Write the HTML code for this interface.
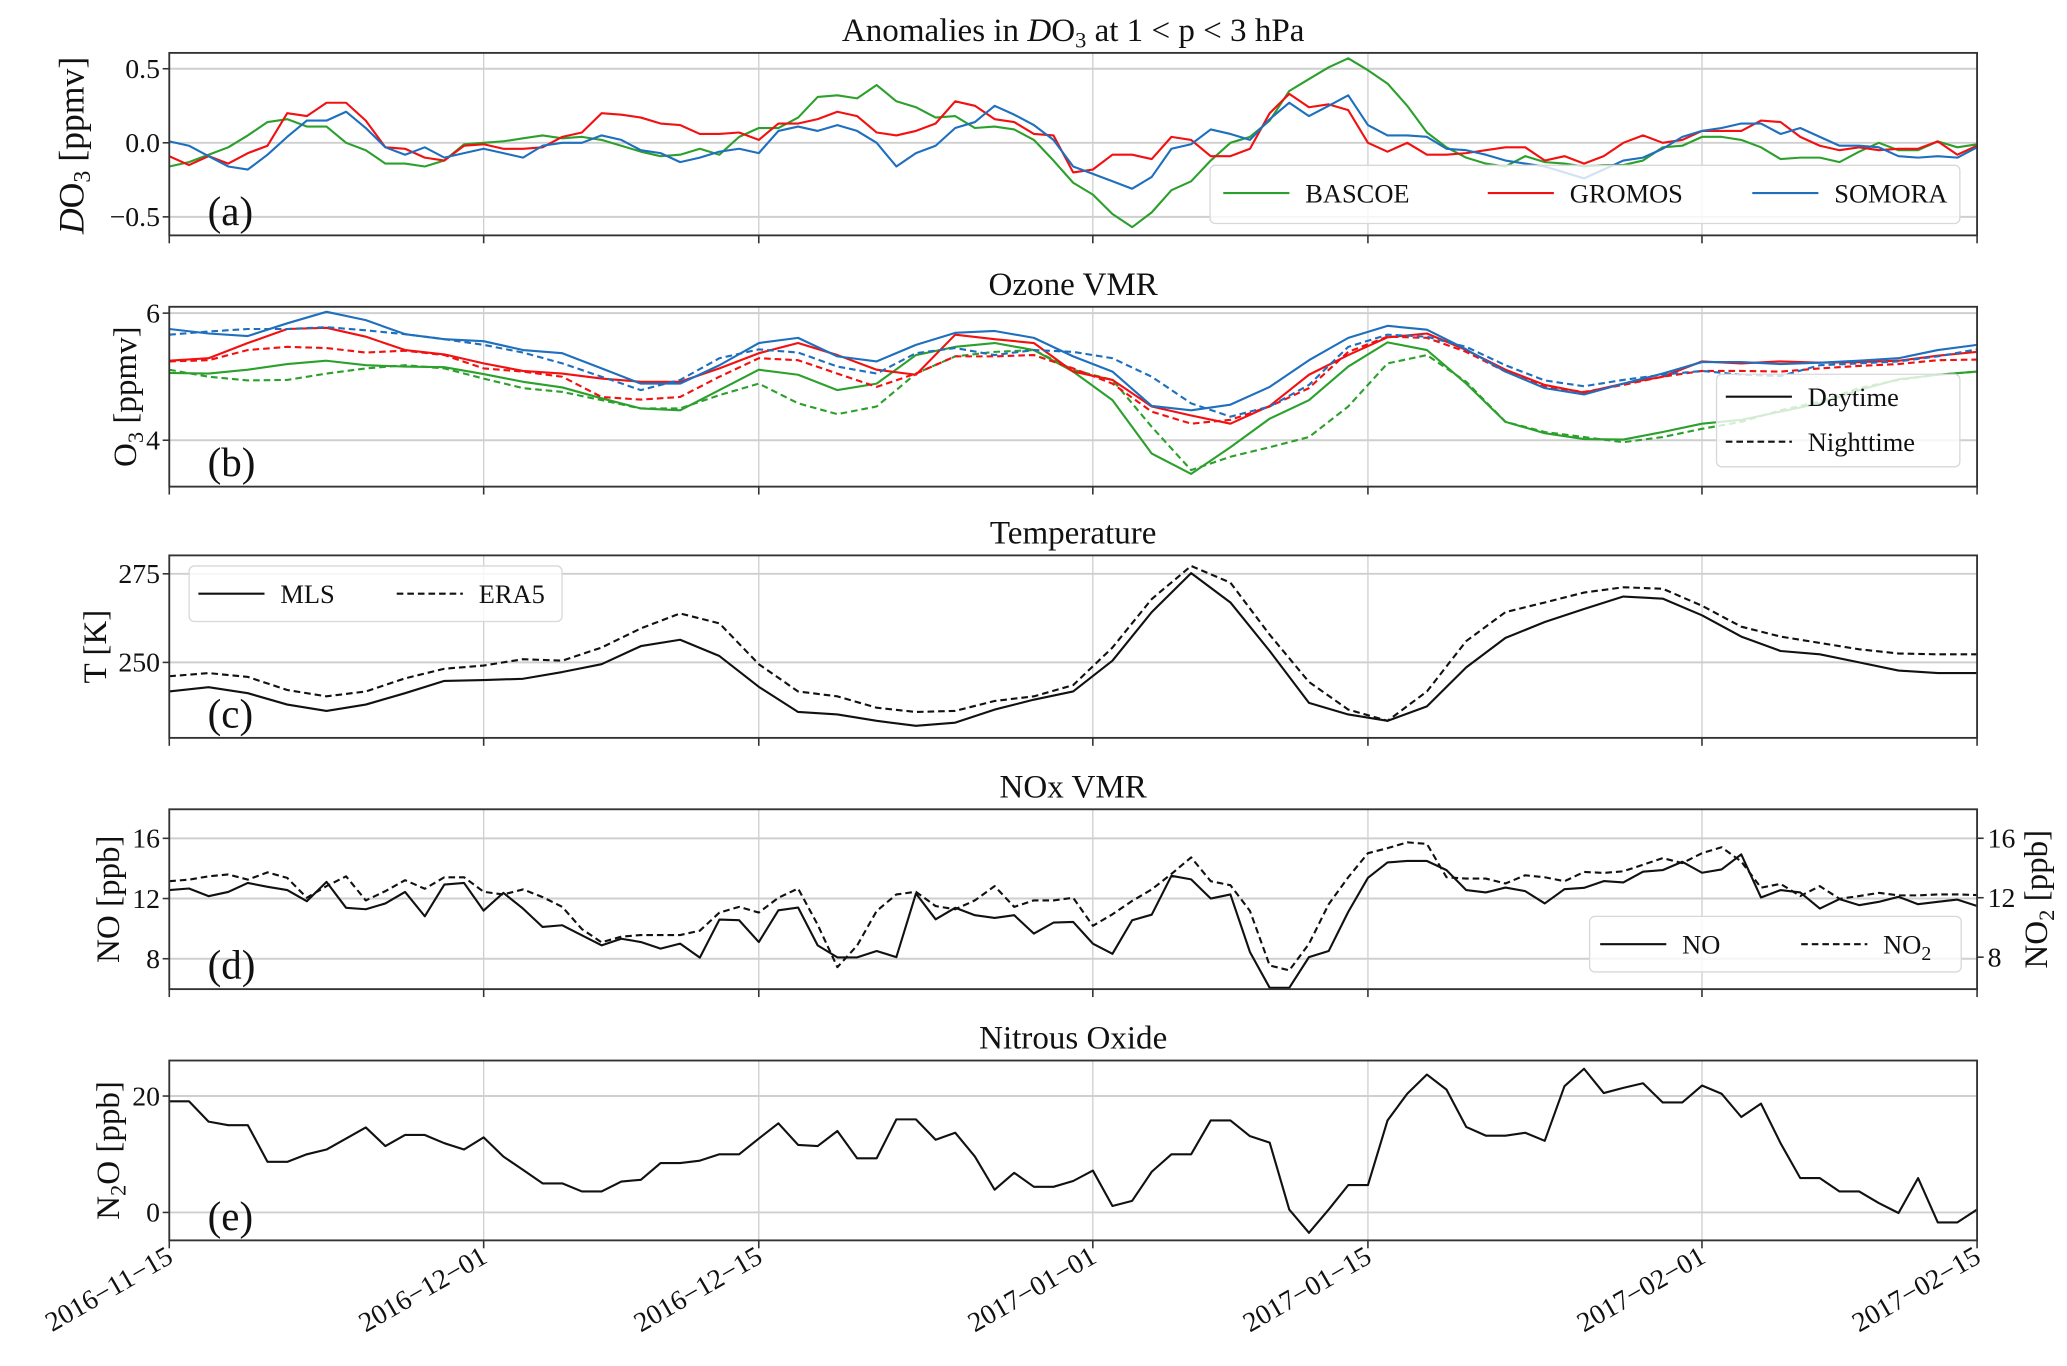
<!DOCTYPE html>
<html><head><meta charset="utf-8"><style>
html,body{margin:0;padding:0;background:#fff;}
svg{display:block;}
text{font-family:"Liberation Serif","DejaVu Serif",serif;fill:#111;}
</style></head><body>
<svg id="chart" width="2067" height="1366" viewBox="0 0 1563 1033" preserveAspectRatio="none" xmlns="http://www.w3.org/2000/svg"></svg>
<script>
// ---------- data ----------
const dateTicks = [0,16,30,47,61,78,92];
const dateLabels = ["2016\u221211\u221215","2016\u221212\u221201","2016\u221212\u221215","2017\u221201\u221201","2017\u221201\u221215","2017\u221202\u221201","2017\u221202\u221215"];

const aBascoe = [-0.16,-0.13,-0.08,-0.03,0.05,0.14,0.16,0.11,0.11,0.0,-0.05,-0.14,-0.14,-0.16,-0.12,-0.01,0.0,0.01,0.03,0.05,0.03,0.04,0.02,-0.02,-0.06,-0.09,-0.08,-0.04,-0.08,0.04,0.10,0.10,0.17,0.31,0.32,0.30,0.39,0.28,0.24,0.17,0.18,0.10,0.11,0.09,0.02,-0.12,-0.27,-0.35,-0.48,-0.57,-0.47,-0.32,-0.26,-0.12,0.0,0.04,0.15,0.35,0.43,0.51,0.57,0.49,0.40,0.25,0.07,-0.03,-0.10,-0.14,-0.16,-0.09,-0.13,-0.14,-0.16,-0.15,-0.15,-0.12,-0.03,-0.02,0.04,0.04,0.02,-0.03,-0.11,-0.10,-0.10,-0.13,-0.06,0.0,-0.05,-0.05,0.01,-0.03,-0.01];
const aGromos = [-0.09,-0.15,-0.09,-0.14,-0.07,-0.02,0.20,0.18,0.27,0.27,0.15,-0.03,-0.04,-0.10,-0.12,-0.02,-0.01,-0.04,-0.04,-0.03,0.04,0.07,0.20,0.19,0.17,0.13,0.12,0.06,0.06,0.07,0.02,0.13,0.13,0.16,0.21,0.18,0.07,0.05,0.08,0.13,0.28,0.25,0.16,0.14,0.06,0.05,-0.20,-0.18,-0.08,-0.08,-0.11,0.04,0.02,-0.09,-0.09,-0.04,0.20,0.33,0.24,0.26,0.22,0.0,-0.06,0.0,-0.08,-0.08,-0.07,-0.05,-0.03,-0.03,-0.12,-0.09,-0.14,-0.09,0.0,0.05,0.0,0.02,0.08,0.08,0.08,0.15,0.14,0.04,-0.02,-0.05,-0.03,-0.05,-0.04,-0.04,0.01,-0.08,-0.02];
const aSomora = [0.01,-0.02,-0.09,-0.16,-0.18,-0.08,0.04,0.15,0.15,0.21,0.10,-0.03,-0.08,-0.03,-0.10,-0.07,-0.04,-0.07,-0.10,-0.02,0.0,0.0,0.05,0.02,-0.05,-0.07,-0.13,-0.10,-0.06,-0.04,-0.07,0.08,0.11,0.08,0.12,0.08,0.0,-0.16,-0.07,-0.02,0.10,0.14,0.25,0.19,0.12,0.02,-0.16,-0.21,-0.26,-0.31,-0.23,-0.04,-0.01,0.09,0.06,0.02,0.16,0.27,0.18,0.25,0.32,0.12,0.05,0.05,0.04,-0.04,-0.05,-0.08,-0.12,-0.14,-0.16,-0.20,-0.24,-0.18,-0.12,-0.10,-0.04,0.04,0.08,0.10,0.13,0.13,0.06,0.10,0.04,-0.02,-0.02,-0.03,-0.09,-0.10,-0.09,-0.10,-0.03];

const bBascoeDay = [5.06,5.05,5.11,5.20,5.25,5.18,5.16,5.15,5.04,4.92,4.83,4.66,4.50,4.47,4.79,5.11,5.03,4.79,4.89,5.34,5.47,5.53,5.42,5.08,4.63,3.79,3.47,3.89,4.34,4.63,5.16,5.54,5.42,4.89,4.29,4.11,4.02,4.01,4.13,4.26,4.32,4.45,4.58,4.79,4.96,5.03,5.08];
const bBascoeNight = [5.11,5.00,4.94,4.95,5.05,5.13,5.18,5.13,4.97,4.82,4.76,4.63,4.50,4.50,4.71,4.89,4.58,4.41,4.53,5.05,5.32,5.39,5.42,5.11,4.95,4.21,3.53,3.74,3.89,4.05,4.53,5.21,5.34,4.92,4.29,4.13,4.05,3.97,4.05,4.18,4.29,4.47,4.61,4.82,4.95,5.03,5.08];
const bGromosDay = [5.25,5.29,5.53,5.75,5.77,5.63,5.42,5.35,5.21,5.09,5.05,4.97,4.92,4.92,5.13,5.37,5.53,5.34,5.11,5.03,5.66,5.59,5.53,5.08,4.95,4.53,4.39,4.26,4.54,5.03,5.34,5.62,5.68,5.42,5.11,4.87,4.75,4.89,5.00,5.24,5.21,5.24,5.22,5.23,5.25,5.33,5.39];
const bGromosNight = [5.24,5.26,5.42,5.47,5.45,5.38,5.41,5.34,5.13,5.08,5.00,4.68,4.64,4.68,5.00,5.29,5.26,5.05,4.84,5.05,5.32,5.32,5.34,5.13,4.89,4.45,4.26,4.32,4.53,4.82,5.39,5.63,5.61,5.39,5.08,4.84,4.76,4.87,5.00,5.09,5.09,5.08,5.13,5.17,5.20,5.26,5.27];
const bSomoraDay = [5.75,5.68,5.64,5.84,6.02,5.89,5.67,5.59,5.56,5.42,5.37,5.13,4.89,4.89,5.18,5.53,5.61,5.32,5.24,5.50,5.69,5.72,5.61,5.32,5.08,4.54,4.47,4.56,4.84,5.26,5.61,5.80,5.74,5.43,5.08,4.82,4.72,4.89,5.05,5.23,5.23,5.20,5.22,5.25,5.29,5.42,5.50];
const bSomoraNight = [5.66,5.71,5.75,5.75,5.78,5.73,5.67,5.59,5.50,5.38,5.21,5.00,4.79,4.95,5.29,5.43,5.38,5.16,5.05,5.37,5.45,5.34,5.42,5.39,5.29,5.00,4.58,4.37,4.53,4.87,5.47,5.66,5.63,5.47,5.18,4.94,4.85,4.95,5.03,5.09,5.03,5.01,5.18,5.21,5.24,5.32,5.43];

const cMLS = [241.8,243.0,241.3,238.1,236.3,238.1,241.3,244.8,245.0,245.4,247.3,249.5,254.6,256.4,251.8,243.1,236.0,235.3,233.5,232.1,233.0,236.7,239.5,241.8,250.5,264.2,275.2,266.9,253.2,238.6,235.3,233.5,237.6,248.6,256.9,261.4,265.1,268.6,268.0,263.3,257.3,253.2,252.3,250.0,247.7,247.0,247.0];
const cERA5 = [246.1,247.0,245.9,242.2,240.4,241.8,245.5,248.2,249.1,250.9,250.5,254.2,259.6,263.8,261.0,249.5,241.8,240.4,237.2,236.0,236.3,239.1,240.4,243.6,254.2,267.9,277.2,272.5,257.8,244.5,236.7,233.5,241.8,256.0,264.2,266.9,269.7,271.2,270.8,266.0,260.1,257.3,255.5,253.7,252.5,252.3,252.3];

const dNO = [12.56,12.67,12.16,12.44,13.04,12.78,12.56,11.82,13.11,11.38,11.29,11.67,12.44,10.82,12.93,13.04,11.2,12.38,11.33,10.11,10.22,9.56,8.89,9.33,9.11,8.67,9.0,8.07,10.6,10.56,9.11,11.22,11.4,8.89,8.09,8.09,8.51,8.11,12.33,10.62,11.38,10.89,10.71,10.89,9.67,10.4,10.44,9.0,8.33,10.56,10.93,13.51,13.27,12.0,12.27,8.44,6.07,6.07,8.11,8.51,11.11,13.38,14.4,14.49,14.49,13.89,12.56,12.4,12.73,12.49,11.67,12.62,12.71,13.16,13.07,13.78,13.89,14.44,13.71,13.93,14.93,12.07,12.56,12.4,11.33,11.96,11.56,11.78,12.11,11.62,11.78,11.93,11.51];
const dNO2 = [13.11,13.22,13.44,13.56,13.22,13.71,13.33,12.0,12.78,13.44,11.82,12.44,13.18,12.6,13.38,13.38,12.4,12.22,12.56,12.04,11.38,9.89,9.0,9.38,9.49,9.49,9.49,9.78,11.0,11.38,11.0,12.0,12.62,10.18,7.33,8.78,11.11,12.22,12.4,11.44,11.22,11.82,12.78,11.38,11.82,11.82,12.0,10.11,10.89,11.78,12.56,13.6,14.71,13.11,12.84,11.11,7.44,7.11,8.89,11.56,13.38,15.0,15.33,15.73,15.62,13.38,13.29,13.29,12.96,13.51,13.38,13.11,13.73,13.67,13.78,14.22,14.67,14.33,15.0,15.4,14.44,12.67,12.93,12.11,12.78,11.93,12.11,12.33,12.16,12.16,12.22,12.22,12.18];

const eN2O = [19.1,19.1,15.6,15.0,15.0,8.7,8.7,10.0,10.8,12.7,14.6,11.4,13.3,13.3,11.9,10.8,12.9,9.6,7.3,5.0,5.0,3.6,3.6,5.3,5.6,8.5,8.5,8.9,10.0,10.0,12.7,15.3,11.6,11.4,14.0,9.3,9.3,16.0,16.0,12.5,13.7,9.6,3.9,6.8,4.4,4.4,5.4,7.2,1.1,2.0,7.0,10.0,10.0,15.8,15.8,13.1,12.0,0.5,-3.5,0.5,4.7,4.7,15.8,20.4,23.7,21.1,14.7,13.2,13.2,13.7,12.3,21.7,24.7,20.5,21.4,22.2,18.9,18.9,21.8,20.4,16.4,18.7,11.9,5.9,5.9,3.6,3.6,1.6,-0.1,5.9,-1.7,-1.7,0.5];

// ---------- layout ----------
const svg = document.getElementById('chart');
const NS = 'http://www.w3.org/2000/svg';
const X0 = 128, X1 = 1495, DAYS = 92;
const xDay = d => X0 + (X1 - X0) * d / DAYS;
const dailyDays = aBascoe.map((v,i)=>i);
const evenDays = cMLS.map((v,i)=>i*2);

function el(tag, attrs, parent){
  const e = document.createElementNS(NS, tag);
  for (const k in attrs) e.setAttribute(k, attrs[k]);
  (parent||svg).appendChild(e);
  return e;
}
function txt(str, attrs, parent){
  const t = el('text', attrs, parent);
  t.innerHTML = str;
  return t;
}
function makeY(top, bot, vTop, vBot){ return v => top + (v - vTop) * (bot - top) / (vBot - vTop); }

function panel(name, top, bot, yfn, ticks, tickLabels, title){
  const g = el('g', {});
  
  
  const cp = el('clipPath', {id: 'clip-' + name}, g);
  el('rect', {x: X0, y: top, width: X1 - X0, height: bot - top}, cp);
  dateTicks.forEach(d => {
    const l = el('line', {x1: xDay(d), x2: xDay(d), y1: top, y2: bot, stroke: '#cfcfcf', 'stroke-width': 1}, g);
    
    
    el('line', {x1: xDay(d), x2: xDay(d), y1: bot, y2: bot + 6, stroke: '#333', 'stroke-width': 1.2}, g);
  });
  ticks.forEach((t, i) => {
    const gl = el('line', {x1: X0, x2: X1, y1: yfn(t), y2: yfn(t), stroke: '#cfcfcf', 'stroke-width': 1.5}, g);
    
    
    el('line', {x1: X0 - 5, x2: X0, y1: yfn(t), y2: yfn(t), stroke: '#333', 'stroke-width': 1.2}, g);
    const tl = txt(tickLabels[i], {x: X0 - 7, y: yfn(t) + 7, 'text-anchor': 'end', 'font-size': 21}, g);
    
    
  });
  const tt = txt(title, {x: (X0 + X1) / 2, y: top - 9, 'text-anchor': 'middle', 'font-size': 25}, g);
  
  
  return g;
}
function frame(g, top, bot){
  const r = el('rect', {x: X0, y: top, width: X1 - X0, height: bot - top, fill: 'none', stroke: '#333', 'stroke-width': 1.4}, g);
  
  
}
function series(g, name, days, vals, yfn, color, dash, clipId){
  const pts = vals.map((v, i) => xDay(days[i]).toFixed(1) + ',' + yfn(v).toFixed(1)).join(' ');
  const p = el('polyline', {points: pts, fill: 'none', stroke: color, 'stroke-width': 1.6, 'stroke-linejoin': 'round', 'clip-path': 'url(#' + clipId + ')'}, g);
  if (dash) p.setAttribute('stroke-dasharray', '5,3');
  
  
}
function label(g, s, top, bot){
  const t = txt(s, {x: 157, y: bot - 8, 'font-size': 31}, g);
  
  
}
function ylabel(g, s, x, cy, size){
  const t = txt(s, {x: x, y: cy, 'text-anchor': 'middle', 'font-size': size || 25, transform: 'rotate(-90 ' + x + ' ' + cy + ')'}, g);
  
  
}
function legendBox(g, x, y, w, h, name){
  const r = el('rect', {x: x, y: y, width: w, height: h, rx: 4, fill: 'rgba(255,255,255,0.8)', stroke: '#d8d8d8', 'stroke-width': 1}, g);
  
  
}
function legendEntry(g, x, y, color, dash, s, name){
  const lg = el('g', {}, g);
  
  
  const l = el('line', {x1: x, x2: x + 50, y1: y, y2: y, stroke: color, 'stroke-width': 1.6}, lg);
  if (dash) l.setAttribute('stroke-dasharray', '5,3');
  txt(s, {x: x + 62, y: y + 7, 'font-size': 20}, lg);
}
const GREEN = '#2ca02c', RED = '#f21010', BLUE = '#1f6fbf', BLACK = '#111';

// Panel a
const ya = makeY(40, 178, 0.607, -0.625);
const ga = panel('panel-a-anomalies', 40, 178, ya, [0.5, 0, -0.5], ['0.5', '0.0', '\u22120.5'], 'Anomalies in <tspan font-style="italic">D</tspan>O<tspan font-size="17" dy="5">3</tspan><tspan dy="-5"> at 1 &lt; p &lt; 3 hPa</tspan>');
series(ga, 'bascoe-anomaly-line', dailyDays, aBascoe, ya, GREEN, false, 'clip-panel-a-anomalies');
series(ga, 'gromos-anomaly-line', dailyDays, aGromos, ya, RED, false, 'clip-panel-a-anomalies');
series(ga, 'somora-anomaly-line', dailyDays, aSomora, ya, BLUE, false, 'clip-panel-a-anomalies');
legendBox(ga, 915, 125, 567, 44, 'legend-a');
legendEntry(ga, 925, 146, GREEN, false, 'BASCOE', 'legend-entry-bascoe');
legendEntry(ga, 1125, 146, RED, false, 'GROMOS', 'legend-entry-gromos');
legendEntry(ga, 1325, 146, BLUE, false, 'SOMORA', 'legend-entry-somora');
frame(ga, 40, 178);
label(ga, '(a)', 40, 178);
ylabel(ga, '<tspan font-style="italic">D</tspan>O<tspan font-size="18" dy="5">3</tspan><tspan dy="-5"> [ppmv]</tspan>', 63, 110, 27);

// Panel b
const yb = makeY(232, 368, 6.1, 3.27);
const gb = panel('panel-b-ozone', 232, 368, yb, [6, 4], ['6', '4'], 'Ozone VMR');
series(gb, 'bascoe-day-line', evenDays, bBascoeDay, yb, GREEN, false, 'clip-panel-b-ozone');
series(gb, 'bascoe-night-line', evenDays, bBascoeNight, yb, GREEN, true, 'clip-panel-b-ozone');
series(gb, 'gromos-day-line', evenDays, bGromosDay, yb, RED, false, 'clip-panel-b-ozone');
series(gb, 'gromos-night-line', evenDays, bGromosNight, yb, RED, true, 'clip-panel-b-ozone');
series(gb, 'somora-day-line', evenDays, bSomoraDay, yb, BLUE, false, 'clip-panel-b-ozone');
series(gb, 'somora-night-line', evenDays, bSomoraNight, yb, BLUE, true, 'clip-panel-b-ozone');
legendBox(gb, 1298, 283, 184, 70, 'legend-b');
legendEntry(gb, 1305, 300, BLACK, false, 'Daytime', 'legend-entry-daytime');
legendEntry(gb, 1305, 334, BLACK, true, 'Nighttime', 'legend-entry-nighttime');
frame(gb, 232, 368);
label(gb, '(b)', 232, 368);
ylabel(gb, 'O<tspan font-size="17" dy="5">3</tspan><tspan dy="-5"> [ppmv]</tspan>', 103, 300);

// Panel c
const yc = makeY(420, 558, 280.2, 228.7);
const gc = panel('panel-c-temperature', 420, 558, yc, [275, 250], ['275', '250'], 'Temperature');
series(gc, 'mls-temperature-line', evenDays, cMLS, yc, BLACK, false, 'clip-panel-c-temperature');
series(gc, 'era5-temperature-line', evenDays, cERA5, yc, BLACK, true, 'clip-panel-c-temperature');
legendBox(gc, 143, 428, 282, 42, 'legend-c');
legendEntry(gc, 150, 449, BLACK, false, 'MLS', 'legend-entry-mls');
legendEntry(gc, 300, 449, BLACK, true, 'ERA5', 'legend-entry-era5');
frame(gc, 420, 558);
label(gc, '(c)', 420, 558);
ylabel(gc, 'T [K]', 80, 489);

// Panel d
const yd = makeY(612, 748, 17.93, 5.98);
const yd2 = makeY(612, 748, 17.95, 5.85);
const gd = panel('panel-d-nox', 612, 748, yd, [16, 12, 8], ['16', '12', '8'], 'NOx VMR');
[16, 12, 8].forEach(t => {
  el('line', {x1: X1, x2: X1 + 5, y1: yd2(t), y2: yd2(t), stroke: '#333', 'stroke-width': 1.2}, gd);
  const rl = txt(String(t), {x: X1 + 8, y: yd2(t) + 7, 'font-size': 21}, gd);
  
  
});
series(gd, 'no-line', dailyDays, dNO, yd, BLACK, false, 'clip-panel-d-nox');
series(gd, 'no2-line', dailyDays, dNO2, yd2, BLACK, true, 'clip-panel-d-nox');
legendBox(gd, 1202, 693, 281, 42, 'legend-d');
legendEntry(gd, 1210, 714, BLACK, false, 'NO', 'legend-entry-no');
legendEntry(gd, 1362, 714, BLACK, true, 'NO<tspan font-size="15" dy="5">2</tspan>', 'legend-entry-no2');
frame(gd, 612, 748);
label(gd, '(d)', 612, 748);
ylabel(gd, 'NO [ppb]', 90, 680);
const r2 = txt('NO<tspan font-size="17" dy="5">2</tspan><tspan dy="-5"> [ppb]</tspan>', {x: 1548, y: 680, 'text-anchor': 'middle', 'font-size': 25, transform: 'rotate(-90 1548 680)'}, gd);



// Panel e
const ye = makeY(802, 938, 26.1, -4.8);
const ge = panel('panel-e-n2o', 802, 938, ye, [20, 0], ['20', '0'], 'Nitrous Oxide');
series(ge, 'n2o-line', dailyDays, eN2O, ye, BLACK, false, 'clip-panel-e-n2o');
frame(ge, 802, 938);
label(ge, '(e)', 802, 938);
ylabel(ge, 'N<tspan font-size="17" dy="5">2</tspan><tspan dy="-5">O [ppb]</tspan>', 90, 870);

// X tick labels
dateTicks.forEach((d, i) => {
  const x = xDay(d) + 4, y = 954;
  const t = txt(dateLabels[i], {x: x, y: y, 'text-anchor': 'end', 'font-size': 21, transform: 'rotate(-30 ' + x + ' ' + y + ')'});
  
  
});
</script>
</body></html>
